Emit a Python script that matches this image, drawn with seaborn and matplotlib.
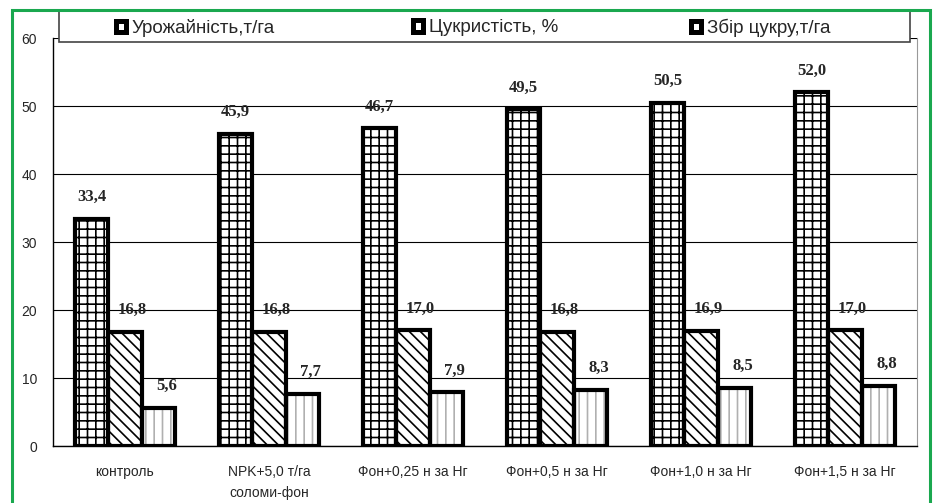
import numpy as np
import pandas as pd
import matplotlib
matplotlib.use("Agg")
import matplotlib.pyplot as plt
from matplotlib.patches import Rectangle, Patch
import seaborn as sns

categories = ["контроль", "NPK+5,0 т/га\nсоломи-фон", "Фон+0,25 н за Нг",
              "Фон+0,5 н за Нг", "Фон+1,0 н за Нг", "Фон+1,5 н за Нг"]
series_names = ["Урожайність,т/га", "Цукристість, %", "Збір цукру,т/га"]
yield_t = [33.4, 45.9, 46.7, 49.5, 50.5, 52.0]
sugar_pct = [16.8, 16.8, 17.0, 16.8, 16.9, 17.0]
sugar_yield = [5.6, 7.7, 7.9, 8.3, 8.5, 8.8]
y_ticks = [0, 10, 20, 30, 40, 50, 60]

df = pd.DataFrame({
    "cat": categories * 3,
    "series": np.repeat(series_names, len(categories)),
    "value": yield_t + sugar_pct + sugar_yield,
})

sns.set_style("white")
plt.rcParams["font.family"] = ["Liberation Sans", "DejaVu Sans"]
plt.rcParams["hatch.linewidth"] = 1.2

W, H = 935, 503
fig = plt.figure(figsize=(W / 100, H / 100), dpi=100)
ax = fig.add_axes([53 / W, 1 - 446 / H, (917 - 53) / W, (446 - 38) / H])

sns.barplot(data=df, x="cat", y="value", hue="series", order=categories,
            hue_order=series_names, palette=["white"] * 3, width=0.7,
            legend=False, ax=ax, zorder=3)

hatches = ["++", "\\\\\\", "||"]
hatch_cols = ["black", "black", "#b0b0b0"]
label_shift = [0, 5, 6]
for cont, h, hc, dx in zip(ax.containers, hatches, hatch_cols, label_shift):
    for p in cont:
        p.set_hatch(h)
        p.set_edgecolor(hc)
        p.set_linewidth(0)
        ax.add_patch(Rectangle(p.get_xy(), p.get_width(), p.get_height(),
                               fill=False, ec="black", lw=3, zorder=4,
                               joinstyle="miter"))
        v = p.get_height()
        ax.annotate(f"{v:.1f}".replace(".", ","),
                    (p.get_x() + p.get_width() / 2, v),
                    xytext=(dx, 10), textcoords="offset points",
                    ha="center", va="bottom", fontsize=12, fontweight="bold",
                    family="Liberation Serif", zorder=5)

ax.set_ylim(0, 60)
ax.set_yticks(y_ticks)
ax.set_xlim(-0.5, len(categories) - 0.5)
ax.yaxis.grid(True, color="black", lw=0.8, zorder=0)
ax.set_axisbelow(True)
ax.set_xlabel("")
ax.set_ylabel("")

# boundary ticks on x, labels at group centres
ax.set_xticks(np.arange(len(categories) + 1) - 0.5)
ax.set_xticklabels([])
ax.set_xticks(np.arange(len(categories)), minor=True)
ax.set_xticklabels(categories, minor=True, fontsize=10, linespacing=1.6, va="top")
ax.tick_params(axis="x", which="major", direction="out", length=6, width=1, color="black")
ax.tick_params(axis="x", which="minor", length=0, pad=14)
ax.tick_params(axis="y", direction="out", length=4.5, width=1, color="black",
               labelsize=10, pad=7)

for s in ["left", "bottom"]:
    ax.spines[s].set_color("black")
    ax.spines[s].set_linewidth(1)
ax.spines["right"].set_color("#999999")
ax.spines["top"].set_visible(False)

# legend box across the top
fig.add_artist(Rectangle((59 / W, 1 - 42 / H), (910 - 59) / W, 32 / H,
                         transform=fig.transFigure, facecolor="white",
                         edgecolor="#444444", lw=1.2, zorder=6))
for name, x0 in zip(series_names, [116, 413, 691]):
    leg = fig.legend([Patch(facecolor="white", edgecolor="black", lw=3.6)], [name],
                     loc="center left", bbox_to_anchor=(x0 / W, 1 - 28 / H),
                     frameon=False, fontsize=13.5, handlelength=0.55,
                     handleheight=0.55, handletextpad=0.3, borderpad=0,
                     borderaxespad=0)
    leg.set_zorder(7)

# green frame
fig.add_artist(Rectangle((12 / W, -0.02), (930 - 12) / W, (H - 10) / H + 0.02,
                         transform=fig.transFigure, fill=False,
                         edgecolor="#1aa84f", lw=2.2, zorder=8))

fig.savefig("out.png", dpi=100)
